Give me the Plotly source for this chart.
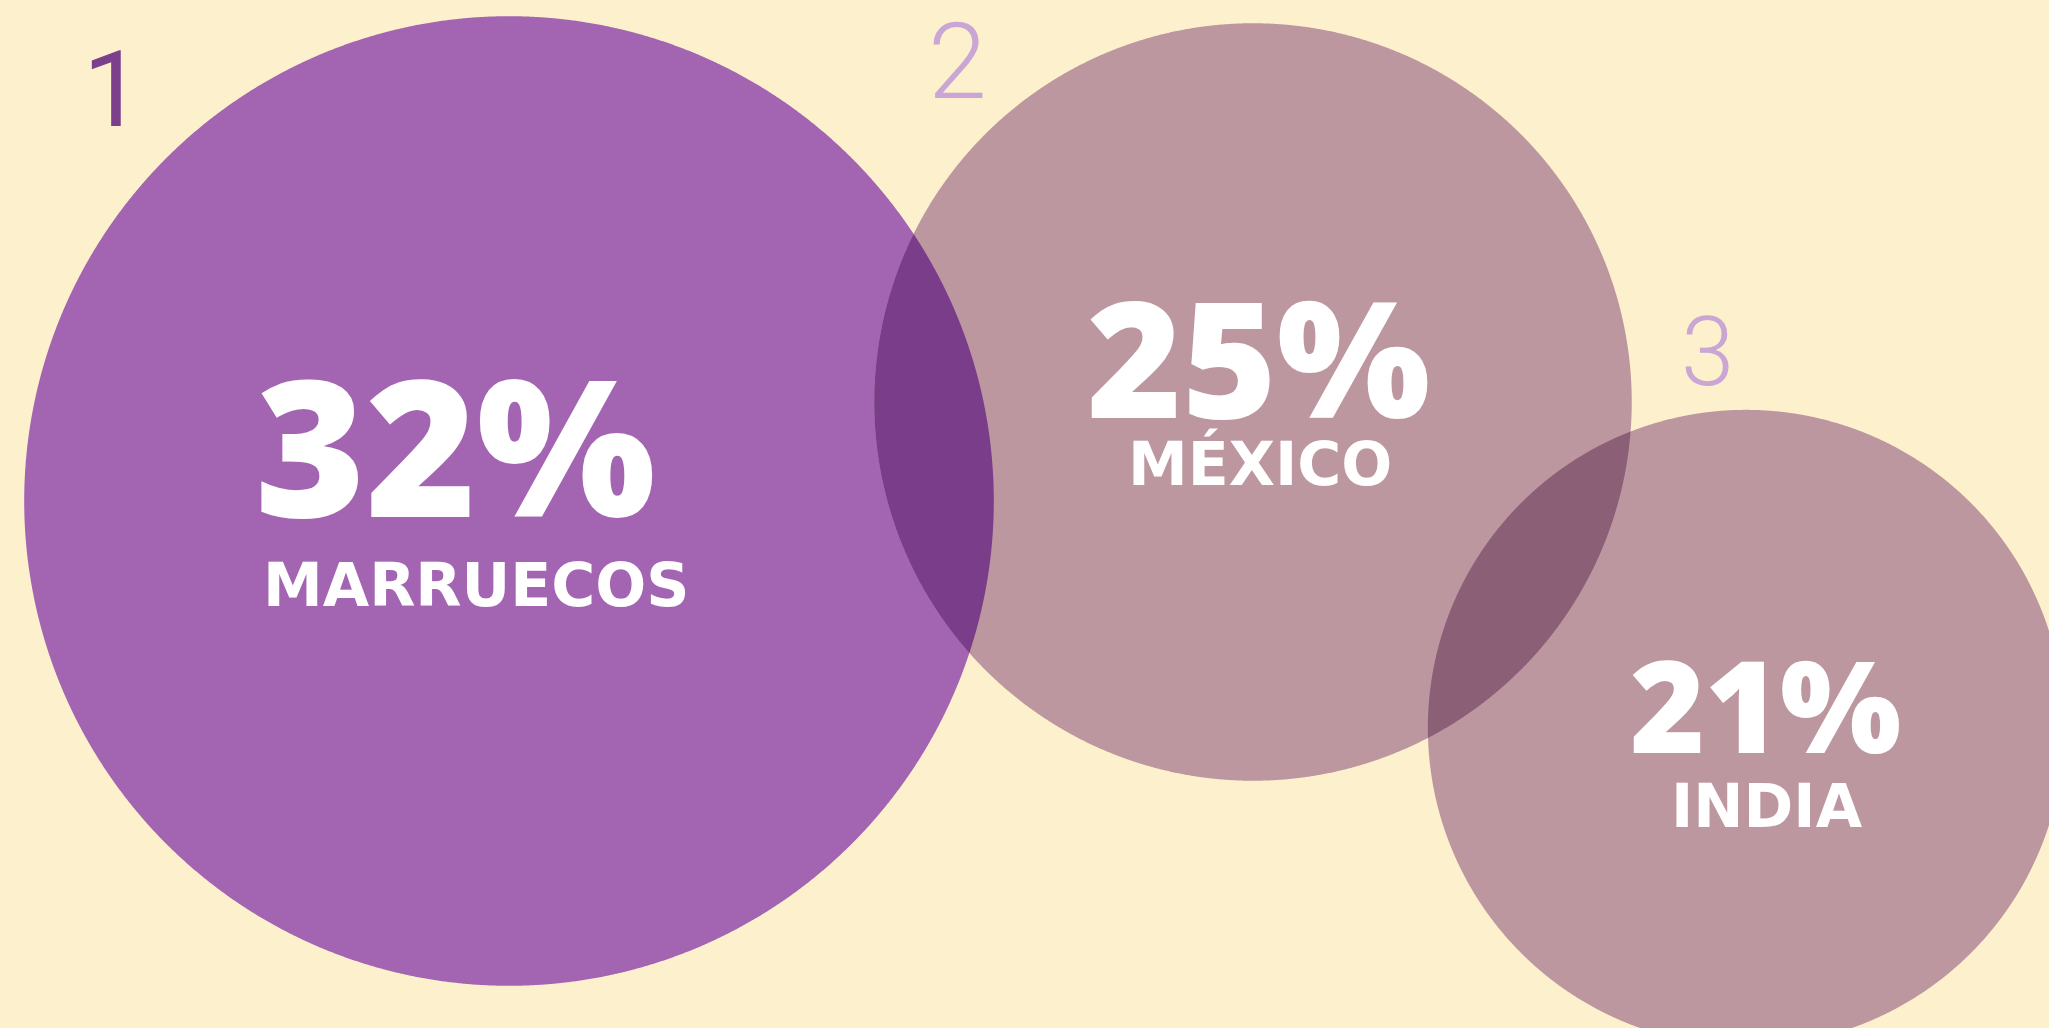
import numpy as np
import plotly.graph_objects as go

# ---------------- data ----------------
countries = ["MARRUECOS", "MÉXICO", "INDIA"]
shares = [32, 25, 21]
ranks = ["1", "2", "3"]

# ---------------- layout / style constants ----------------
W, H = 2049, 1028
BG = "#FDF0CD"
PX_PER_POINT = 15.15                      # circle radius per percentage point
circle_cx = [509, 1253, 1746]
circle_cy = [501, 402, 728]
circle_colors = ["#A365B2", "#BD979F", "#BD979F"]
lens_pairs = [(0, 1), (1, 2)]
lens_colors = ["#793D8A", "#8B6077"]

share_pos = [(455, 443), (1258, 355), (1765, 703)]
share_sizes = [189, 162, 128]
name_pos = [(476, 585), (1260, 463), (1767, 806)]
name_size = 60
rank_pos = [(113, 90), (957, 62), (1707, 352)]
rank_sizes = [106, 106, 96]
rank_weights = [400, 300, 300]
rank_colors = ["#7C3F8C", "#C9A6D4", "#C9A6D4"]


def circle_xy(i, n=2001):
    r = shares[i] * PX_PER_POINT
    t = np.linspace(0, 2 * np.pi, n)
    return circle_cx[i] + r * np.cos(t), circle_cy[i] + r * np.sin(t)


def lens_xy(i, j, n=801):
    x1, y1, r1 = circle_cx[i], circle_cy[i], shares[i] * PX_PER_POINT
    x2, y2, r2 = circle_cx[j], circle_cy[j], shares[j] * PX_PER_POINT
    d = np.hypot(x2 - x1, y2 - y1)
    phi = np.arctan2(y2 - y1, x2 - x1)
    a = np.arccos((d * d + r1 * r1 - r2 * r2) / (2 * d * r1))
    b = np.arccos((d * d + r2 * r2 - r1 * r1) / (2 * d * r2))
    ta = np.linspace(phi - a, phi + a, n)
    tb = np.linspace(phi + np.pi - b, phi + np.pi + b, n)
    xs = np.concatenate([x1 + r1 * np.cos(ta), x2 + r2 * np.cos(tb)])
    ys = np.concatenate([y1 + r1 * np.sin(ta), y2 + r2 * np.sin(tb)])
    return xs, ys


fig = go.Figure()

for i in range(len(shares)):
    x, y = circle_xy(i)
    fig.add_trace(go.Scatter(
        x=x, y=y, mode="lines", fill="toself", fillcolor=circle_colors[i],
        line=dict(width=0, color=circle_colors[i], simplify=False),
        hoverinfo="skip", showlegend=False))

for (i, j), col in zip(lens_pairs, lens_colors):
    x, y = lens_xy(i, j)
    fig.add_trace(go.Scatter(
        x=x, y=y, mode="lines", fill="toself", fillcolor=col,
        line=dict(width=0, color=col, simplify=False),
        hoverinfo="skip", showlegend=False))

annotations = []
for i in range(len(shares)):
    annotations.append(dict(
        x=share_pos[i][0], y=share_pos[i][1], xref="x", yref="y",
        text=f"{shares[i]}%", showarrow=False, xanchor="center", yanchor="middle",
        font=dict(family="Open Sans", size=share_sizes[i], color="white", weight=800)))
    annotations.append(dict(
        x=name_pos[i][0], y=name_pos[i][1], xref="x", yref="y",
        text=countries[i], showarrow=False, xanchor="center", yanchor="middle",
        font=dict(family="DejaVu Sans", size=name_size, color="white", weight=700)))
    annotations.append(dict(
        x=rank_pos[i][0], y=rank_pos[i][1], xref="x", yref="y",
        text=ranks[i], showarrow=False, xanchor="center", yanchor="middle",
        font=dict(family="Roboto", size=rank_sizes[i], color=rank_colors[i],
                  weight=rank_weights[i])))

fig.update_layout(
    width=W, height=H,
    margin=dict(l=0, r=0, t=0, b=0, pad=0),
    paper_bgcolor=BG, plot_bgcolor=BG,
    xaxis=dict(range=[0, W], visible=False, fixedrange=True),
    yaxis=dict(range=[H, 0], visible=False, fixedrange=True),
    annotations=annotations,
    showlegend=False,
)

fig.write_html(
    "out.html",
    config={"displayModeBar": False, "staticPlot": True},
    post_script="document.body.style.margin='0';document.body.style.overflow='hidden';",
)
